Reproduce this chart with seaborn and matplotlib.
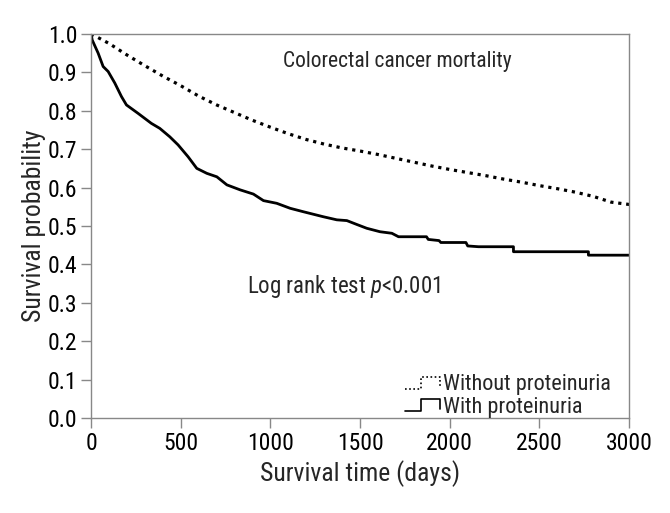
import matplotlib
matplotlib.use("Agg")
import matplotlib.pyplot as plt
from matplotlib.legend_handler import HandlerLine2D
from matplotlib.lines import Line2D
import seaborn as sns
import pandas as pd

# Kurve ohne Proteinurie (gepunktet)
t_without = [0, 100, 200, 300, 400, 500, 600, 700, 800, 900, 1000, 1100, 1200,
             1300, 1400, 1500, 1600, 1700, 1800, 1900, 2000, 2100, 2200, 2300,
             2400, 2500, 2600, 2700, 2800, 2900, 3000]
s_without = [1.0, 0.975, 0.945, 0.917, 0.89, 0.865, 0.838, 0.815, 0.795, 0.775,
             0.757, 0.74, 0.725, 0.713, 0.703, 0.695, 0.686, 0.676, 0.666, 0.656,
             0.647, 0.639, 0.631, 0.622, 0.614, 0.605, 0.597, 0.588, 0.577,
             0.562, 0.556]

# Kurve mit Proteinurie (durchgezogen), Eckpunkte aus der Abbildung
t_with = [0, 6, 39, 67, 95, 132, 169, 197, 262, 336, 383, 439, 485, 541, 589,
          645, 701, 757, 831, 905, 961, 1035, 1110, 1184, 1295, 1370, 1426,
          1481, 1537, 1611, 1677, 1714, 1870, 1880, 1940, 1950, 2090, 2100,
          2160, 2355, 2355, 2773, 2773, 3000]
s_with = [1.0, 0.984, 0.950, 0.915, 0.902, 0.872, 0.837, 0.815, 0.793, 0.767,
          0.754, 0.732, 0.711, 0.680, 0.650, 0.637, 0.628, 0.607, 0.594, 0.583,
          0.566, 0.559, 0.546, 0.537, 0.524, 0.516, 0.514, 0.504, 0.494, 0.485,
          0.481, 0.472, 0.472, 0.465, 0.462, 0.457, 0.457, 0.448, 0.446, 0.446,
          0.433, 0.433, 0.424, 0.424]

labels = ["Without proteinuria", "With proteinuria"]
x_ticks = [0, 500, 1000, 1500, 2000, 2500, 3000]
y_ticks = [0.0, 0.1, 0.2, 0.3, 0.4, 0.5, 0.6, 0.7, 0.8, 0.9, 1.0]


class StepHandler(HandlerLine2D):
    """Legendensymbol als kleine Treppenstufe."""
    def create_artists(self, legend, orig_handle, xdescent, ydescent,
                       width, height, fontsize, trans):
        x0 = -xdescent
        y0 = -ydescent
        lo = y0 + 0.1 * height
        hi = y0 + 0.85 * height
        xs = [x0, x0 + 0.45 * width, x0 + 0.45 * width, x0 + width, x0 + width]
        ys = [lo, lo, hi, hi, lo + 0.1 * height]
        line = Line2D(xs, ys)
        self.update_prop(line, orig_handle, legend)
        line.set_linewidth(1.2)
        line.set_transform(trans)
        return [line]


def main():
    sns.set_style("ticks")
    plt.rcParams["font.family"] = ["Roboto Condensed", "Roboto", "DejaVu Sans"]
    plt.rcParams["mathtext.fontset"] = "custom"
    plt.rcParams["mathtext.rm"] = "Roboto Condensed"
    plt.rcParams["mathtext.it"] = "Roboto Condensed:italic"

    df_without = pd.DataFrame({"time": t_without, "surv": s_without})
    df_with = pd.DataFrame({"time": t_with, "surv": s_with})

    fig = plt.figure(figsize=(6.7, 5.13), dpi=100)
    ax = fig.add_axes([0.136, 0.185, 0.803, 0.749])

    sns.lineplot(data=df_without, x="time", y="surv", ax=ax, color="black",
                 estimator=None, sort=False, linewidth=2.3,
                 linestyle=(0, (1, 1.5)), dash_capstyle="butt",
                 label=labels[0])
    sns.lineplot(data=df_with, x="time", y="surv", ax=ax, color="black",
                 estimator=None, sort=False, linewidth=2.0, label=labels[1])

    ax.set_xlim(0, 3000)
    ax.set_ylim(0, 1.0)
    ax.set_xticks(x_ticks)
    ax.set_yticks(y_ticks)
    ax.set_yticklabels([f"{v:.1f}" for v in y_ticks])
    ax.tick_params(axis="both", labelsize=17, length=7, width=1,
                   color="#888888", labelcolor="black", pad=3)

    for sp in ax.spines.values():
        sp.set_color("#888888")
        sp.set_linewidth(1)

    ax.set_xlabel("Survival time (days)", fontsize=18.5, labelpad=4)
    ax.set_ylabel("Survival probability", fontsize=18.5, labelpad=1)

    ax.text(1706, 0.927, "Colorectal cancer mortality", fontsize=15.5,
            ha="center", va="center")
    ax.text(870, 0.343, "Log rank test $\\it{p}$<0.001", fontsize=16.5,
            ha="left", va="center")

    handles, hl = ax.get_legend_handles_labels()
    ax.legend(handles, hl, loc="lower right", bbox_to_anchor=(1.0, -0.045),
              frameon=False, fontsize=16, handlelength=1.6,
              handletextpad=0.15, labelspacing=0.05, borderpad=0.3,
              handler_map={h: StepHandler() for h in handles})

    fig.savefig("out.png", dpi=100)


if __name__ == "__main__":
    main()
